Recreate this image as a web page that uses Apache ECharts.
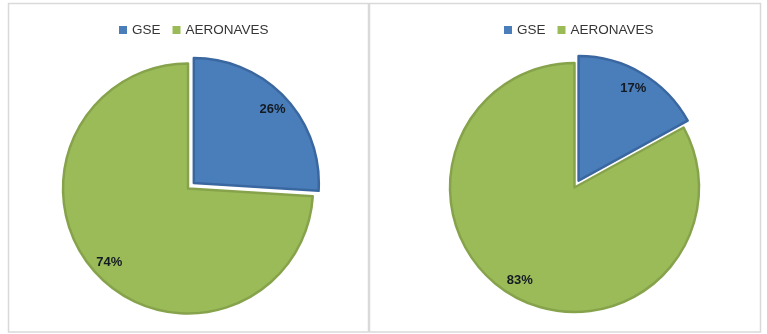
<!DOCTYPE html>
<html>
<head>
<meta charset="utf-8">
<script src="https://cdn.jsdelivr.net/npm/echarts@6/dist/echarts.min.js"></script>
<style>
  html, body { margin: 0; padding: 0; background: #fff; }
  #chart { width: 767px; height: 334px; }
</style>
</head>
<body>
<div id="chart"></div>
<script>
// Share of GSE vs aircraft (AERONAVES) in two scenarios
const categories = ['GSE', 'AERONAVES'];
const leftValues = [26, 74];
const rightValues = [17, 83];

const fills = ['#4A7EBB', '#9BBB59'];
const edges = ['#3A67A0', '#86A34B'];
const font = 'Liberation Sans, Arial, sans-serif';

function pieData(values, withStyle) {
  return categories.map((name, i) => {
    const style = withStyle
      ? { color: fills[i], borderColor: edges[i], borderWidth: 2.5 }
      : { color: 'rgba(0,0,0,0)', borderWidth: 0 };
    return {
      name: name,
      value: values[i],
      selected: i === 0,
      itemStyle: style,
      select: { itemStyle: style }
    };
  });
}

function pieSeries(values, center, radius) {
  return [
    {
      type: 'pie',
      center: center,
      radius: radius,
      startAngle: 90,
      clockwise: true,
      selectedMode: 'single',
      selectedOffset: 8,
      label: { show: false },
      labelLine: { show: false },
      emphasis: { disabled: true },
      animation: false,
      data: pieData(values, true)
    },
    {
      // transparent ring that carries the percentage labels
      type: 'pie',
      center: center,
      radius: [radius * 0.68, radius],
      startAngle: 90,
      clockwise: true,
      selectedMode: 'single',
      selectedOffset: 8,
      silent: true,
      animation: false,
      emphasis: { disabled: true },
      label: {
        show: true,
        position: 'inside',
        formatter: '{c}%',
        fontFamily: font,
        fontWeight: 'bold',
        fontSize: 13,
        color: '#141a22'
      },
      labelLine: { show: false },
      data: pieData(values, false)
    }
  ];
}

function legend(left) {
  return {
    left: left,
    top: 23,
    padding: 0,
    icon: 'rect',
    itemWidth: 8,
    itemHeight: 8,
    itemGap: 12,
    selectedMode: false,
    data: categories.map((name, i) => ({
      name: name,
      itemStyle: { color: fills[i], borderWidth: 0 }
    })),
    textStyle: { fontFamily: font, fontSize: 13.5, color: '#363636' }
  };
}

const chart = echarts.init(document.getElementById('chart'), null, { renderer: 'canvas' });
chart.setOption({
  backgroundColor: '#ffffff',
  animation: false,
  legend: [legend(119), legend(504)],
  graphic: [
    {
      type: 'rect',
      shape: { x: 8.5, y: 3.5, width: 752, height: 328.5 },
      style: { fill: 'none', stroke: '#d9d9d9', lineWidth: 1.5 },
      silent: true
    },
    {
      type: 'line',
      shape: { x1: 369, y1: 3.5, x2: 369, y2: 332 },
      style: { stroke: '#d9d9d9', lineWidth: 2.5 },
      silent: true
    }
  ],
  series: [
    ...pieSeries(leftValues, [188, 188.5], 125),
    ...pieSeries(rightValues, [574.5, 187.5], 124.5)
  ]
});
</script>
</body>
</html>
